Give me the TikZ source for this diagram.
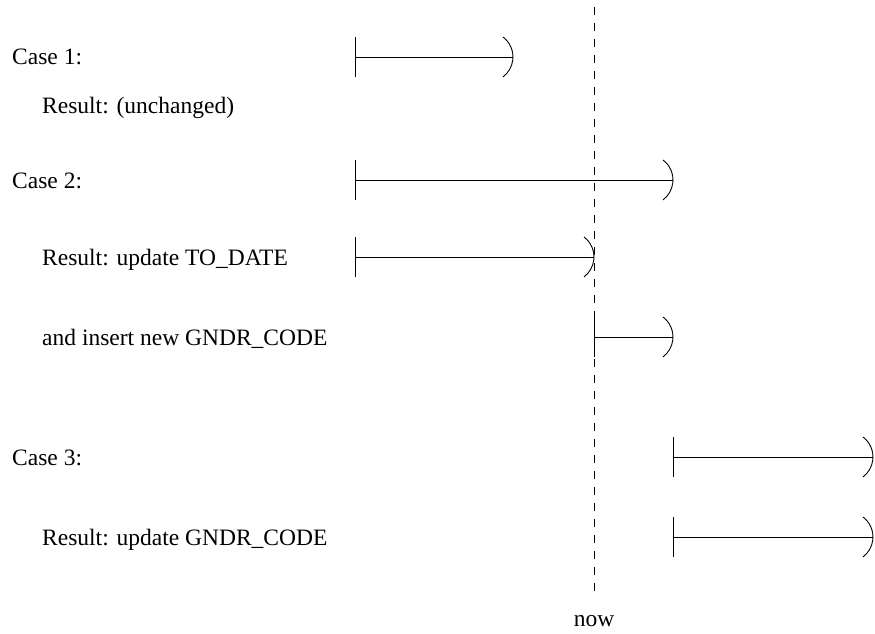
\documentclass[tikz,border=0pt]{standalone}
\usepackage{fontspec}
\setmainfont{Liberation Serif}
\usetikzlibrary{arrows.meta}

\begin{document}
\begin{tikzpicture}[x=1pt,y=-1pt,
    every node/.style={anchor=base west,inner sep=0pt,font=\fontsize{23.5}{28}\selectfont},
    period/.style={line width=0.9pt,{Bar[width=40pt,line width=0.9pt]}-},
    timeline/.style={line width=0.9pt,dash pattern=on 8pt off 8pt},
    pics/openend/.style={code={
      \draw[line width=0.9pt] (-10pt,20pt) arc[start angle=53,end angle=-53,radius=25pt];}}]
  \useasboundingbox (0,0) rectangle (875,634);

  % the "now" line
  \node[anchor=base] (now) at (594,626) {now};
  \coordinate (top) at (594,7);
  \coordinate (bottom) at (594,592);
  \draw[timeline] (top) -- (bottom);

  % case texts
  \node (case1) at (12,65) {Case 1:};
  \node (res1) at (42,113) {Result: (unchanged)};
  \node (case2) at (12,188) {Case 2:};
  \node (res2) at (42,265) {Result: update TO\_DATE};
  \node (res2b) at (42,345) {and insert new GNDR\_CODE};
  \node (case3) at (12,465) {Case 3:};
  \node (res3) at (42,545) {Result: update GNDR\_CODE};

  % validity periods
  \coordinate (from1) at (355,57);   \coordinate (to1) at (513,57);
  \coordinate (from2) at (355,180);  \coordinate (to2) at (673,180);
  \coordinate (from2a) at (355,257); \coordinate (to2a) at (594,257);
  \coordinate (from2b) at (594,337); \coordinate (to2b) at (673,337);
  \coordinate (from3) at (673,457);  \coordinate (to3) at (873,457);
  \coordinate (from3a) at (673,537); \coordinate (to3a) at (873,537);

  \draw[period] (from1) -- (to1);   \pic at (to1) {openend};
  \draw[period] (from2) -- (to2);   \pic at (to2) {openend};
  \draw[period] (from2a) -- (to2a); \pic at (to2a) {openend};
  \draw[period] (from2b) -- (to2b); \pic at (to2b) {openend};
  \draw[period] (from3) -- (to3);   \pic at (to3) {openend};
  \draw[period] (from3a) -- (to3a); \pic at (to3a) {openend};
\end{tikzpicture}
\end{document}
